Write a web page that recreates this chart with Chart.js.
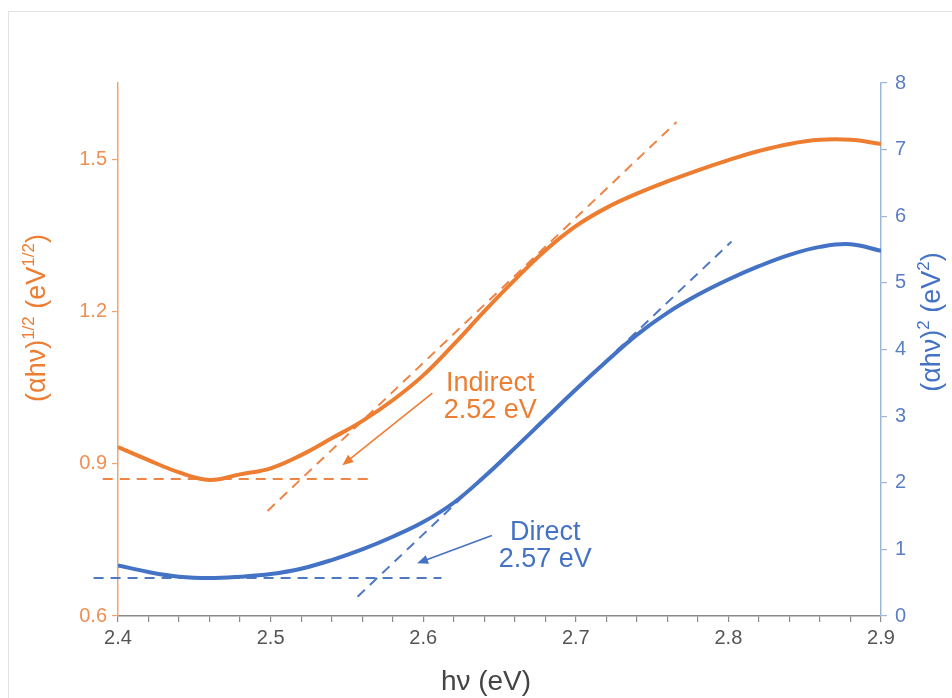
<!DOCTYPE html>
<html>
<head>
<meta charset="utf-8">
<title>Band gap</title>
<script src="https://cdn.jsdelivr.net/npm/chart.js@4.4.1/dist/chart.umd.min.js"></script>
<style>
html, body { margin: 0; padding: 0; background: #fff; overflow: hidden; }
#frame { position: absolute; left: 8px; top: 11px; width: 960px; height: 700px; border: 1px solid #e3e3e3; }
#chart { position: absolute; left: 0; top: 0; }
</style>
</head>
<body>
<div id="frame"></div>
<canvas id="chart" width="952" height="698"></canvas>
<script>
"use strict";

// photon energy (eV)
var hv = [2.40, 2.42, 2.44, 2.46, 2.48, 2.50, 2.52, 2.54, 2.56, 2.58, 2.60, 2.62, 2.64,
          2.66, 2.68, 2.70, 2.72, 2.74, 2.76, 2.78, 2.80, 2.82, 2.84, 2.86, 2.88, 2.90];

// (ahv)^1/2, indirect transition - left axis
var indirectVals = [0.933, 0.907, 0.883, 0.868, 0.879, 0.891, 0.917, 0.950, 0.984, 1.025, 1.074, 1.135, 1.200,
                    1.262, 1.320, 1.368, 1.404, 1.432, 1.456, 1.478, 1.498, 1.516, 1.530, 1.538, 1.538, 1.530];

// (ahv)^2, direct transition - right axis
var directVals = [0.76, 0.66, 0.59, 0.57, 0.59, 0.63, 0.71, 0.84, 1.00, 1.19, 1.41, 1.70, 2.09,
                  2.52, 2.96, 3.40, 3.82, 4.22, 4.55, 4.82, 5.05, 5.25, 5.42, 5.54, 5.58, 5.48];

// band gaps
var indirectGap = 2.52;
var directGap = 2.57;

// baselines and linear fits (x = eV)
var indirectBaseX = [2.390, 2.566];
var indirectBaseY = [0.87, 0.87];
var indirectFitX = [2.498, 2.766];
var indirectFitY = [0.807, 1.573];

var directBaseX = [2.384, 2.612];
var directBaseY = [0.57, 0.57];
var directFitX = [2.557, 2.802];
var directFitY = [0.29, 5.62];

// axis ticks
var leftTicks = [0.6, 0.9, 1.2, 1.5];

var ORANGE = '#ED7D31';
var BLUE = '#4472C4';
var FONT = '"Liberation Sans", Arial, Helvetica, sans-serif';

function pairs(xs, ys) {
	return xs.map(function(x, i) { return { x: x, y: ys[i] }; });
}

// draws a line of text where some parts are superscripts, centred on (cx, cy)
function drawRichText(ctx, parts, cx, cy, angle, color, size) {
	ctx.save();
	ctx.translate(cx, cy);
	ctx.rotate(angle);
	ctx.fillStyle = color;
	ctx.textBaseline = 'alphabetic';
	ctx.textAlign = 'left';
	var total = 0;
	parts.forEach(function(p) {
		ctx.font = (p.sup ? Math.round(size * 0.62) : size) + 'px ' + FONT;
		p.w = ctx.measureText(p.t).width;
		total += p.w;
	});
	var pos = -total / 2;
	parts.forEach(function(p) {
		ctx.font = (p.sup ? Math.round(size * 0.62) : size) + 'px ' + FONT;
		ctx.fillText(p.t, pos, p.sup ? -size * 0.42 : 0);
		pos += p.w;
	});
	ctx.restore();
}

function drawArrow(ctx, x1, y1, x2, y2, color) {
	var a = Math.atan2(y2 - y1, x2 - x1);
	var head = 11, half = 4.5;
	ctx.save();
	ctx.strokeStyle = color;
	ctx.fillStyle = color;
	ctx.lineWidth = 1.6;
	ctx.beginPath();
	ctx.moveTo(x1, y1);
	ctx.lineTo(x2 - Math.cos(a) * head * 0.8, y2 - Math.sin(a) * head * 0.8);
	ctx.stroke();
	ctx.beginPath();
	ctx.moveTo(x2, y2);
	ctx.lineTo(x2 - Math.cos(a) * head - Math.sin(a) * half, y2 - Math.sin(a) * head + Math.cos(a) * half);
	ctx.lineTo(x2 - Math.cos(a) * head + Math.sin(a) * half, y2 - Math.sin(a) * head - Math.cos(a) * half);
	ctx.closePath();
	ctx.fill();
	ctx.restore();
}

// labels, arrows and axis titles
var bandGapPlugin = {
	id: 'bandGap',
	afterDatasetsDraw: function(chart) {
		var ctx = chart.ctx;
		var x = chart.scales.x, yl = chart.scales.y, yr = chart.scales.y2;

		drawArrow(ctx, x.getPixelForValue(2.606), yl.getPixelForValue(1.039),
			x.getPixelForValue(2.547), yl.getPixelForValue(0.897), ORANGE);
		drawArrow(ctx, x.getPixelForValue(2.645), yr.getPixelForValue(1.21),
			x.getPixelForValue(2.596), yr.getPixelForValue(0.79), BLUE);

		ctx.save();
		ctx.font = '27px ' + FONT;
		ctx.textAlign = 'center';
		ctx.textBaseline = 'alphabetic';
		ctx.fillStyle = ORANGE;
		ctx.fillText('Indirect', x.getPixelForValue(2.644), yl.getPixelForValue(1.043));
		ctx.fillText(indirectGap.toFixed(2) + ' eV', x.getPixelForValue(2.644), yl.getPixelForValue(0.990));
		ctx.fillStyle = BLUE;
		ctx.fillText('Direct', x.getPixelForValue(2.680), yr.getPixelForValue(1.139));
		ctx.fillText(directGap.toFixed(2) + ' eV', x.getPixelForValue(2.680), yr.getPixelForValue(0.734));
		ctx.restore();
	},
	afterDraw: function(chart) {
		var ctx = chart.ctx;
		drawRichText(ctx, [
			{ t: '(\u03B1h\u03BD)' }, { t: '1/2', sup: true },
			{ t: ' (eV' }, { t: '1/2', sup: true }, { t: ')' }
		], 45, 318, -Math.PI / 2, ORANGE, 27);
		drawRichText(ctx, [
			{ t: '(\u03B1h\u03BD)' }, { t: '2', sup: true },
			{ t: ' (eV' }, { t: '2', sup: true }, { t: ')' }
		], 940, 322, -Math.PI / 2, BLUE, 27);
		drawRichText(ctx, [{ t: 'h\u03BD (eV)' }], 486, 690, 0, '#444', 28);
	}
};

function dashed(data, color, axis) {
	return {
		data: data,
		yAxisID: axis,
		borderColor: color,
		borderWidth: 2,
		borderDash: [10, 7],
		pointRadius: 0,
		tension: 0,
		clip: false
	};
}

var ctx = document.getElementById('chart').getContext('2d');
var chart = new Chart(ctx, {
	type: 'line',
	data: {
		datasets: [
			{
				data: pairs(hv, indirectVals),
				yAxisID: 'y',
				borderColor: ORANGE,
				borderWidth: 4,
				pointRadius: 0,
				tension: 0.4
			},
			{
				data: pairs(hv, directVals),
				yAxisID: 'y2',
				borderColor: BLUE,
				borderWidth: 4,
				pointRadius: 0,
				tension: 0.4
			},
			dashed(pairs(indirectBaseX, indirectBaseY), '#EE8545', 'y'),
			dashed(pairs(indirectFitX, indirectFitY), '#EE8545', 'y'),
			dashed(pairs(directBaseX, directBaseY), '#4F78C2', 'y2'),
			dashed(pairs(directFitX, directFitY), '#4F78C2', 'y2')
		]
	},
	options: {
		responsive: false,
		animation: false,
		layout: { padding: { top: 83, left: 0, right: 0, bottom: 0 } },
		plugins: {
			legend: { display: false },
			tooltip: { enabled: false }
		},
		scales: {
			x: {
				type: 'linear',
				position: 'bottom',
				min: 2.4,
				max: 2.9,
				afterFit: function(scale) { scale.height = 82; },
				ticks: {
					stepSize: 0.02,
					autoSkip: false,
					maxRotation: 0,
					padding: 4,
					color: '#555',
					font: { family: FONT, size: 20 },
					callback: function(v) {
						var r = Math.round(v * 10);
						return Math.abs(v * 10 - r) < 1e-6 ? (r / 10).toFixed(1) : '';
					}
				},
				grid: { drawOnChartArea: false, tickLength: 6, color: '#8a8a8a', lineWidth: 1.2 },
				border: { color: '#8a8a8a', width: 1.5 }
			},
			y: {
				position: 'left',
				min: 0.6,
				max: 1.65,
				afterFit: function(scale) { scale.width = 118; },
				afterBuildTicks: function(scale) {
					scale.ticks = leftTicks.map(function(v) { return { value: v }; });
				},
				ticks: {
					padding: 5,
					color: '#EF8F52',
					font: { family: FONT, size: 20 },
					callback: function(v) { return v.toFixed(1); }
				},
				grid: { drawOnChartArea: false, tickLength: 6, color: '#F2A46F', lineWidth: 1.2 },
				border: { color: '#F2A46F', width: 1.5 }
			},
			y2: {
				position: 'right',
				min: 0,
				max: 8,
				afterFit: function(scale) { scale.width = 71; },
				ticks: {
					stepSize: 1,
					padding: 8,
					color: '#5A7EC2',
					font: { family: FONT, size: 20 }
				},
				grid: { drawOnChartArea: false, tickLength: 6, color: '#9DB5DD', lineWidth: 1.2 },
				border: { color: '#9DB5DD', width: 1.5 }
			}
		}
	},
	plugins: [bandGapPlugin]
});
</script>
</body>
</html>
